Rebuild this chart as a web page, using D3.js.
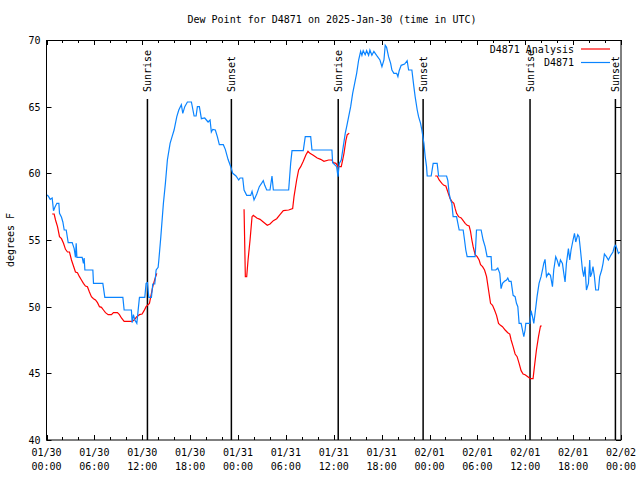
<!DOCTYPE html>
<html><head><meta charset="utf-8">
<script src="https://cdn.jsdelivr.net/npm/d3@7"></script>
<style>body{margin:0;background:#fff}svg text{font-family:"DejaVu Sans Mono",monospace;font-size:10px;fill:#000}</style>
</head><body><svg id="c" width="640" height="480"></svg>
<script>
const title = "Dew Point for D4871 on 2025-Jan-30 (time in UTC)";
const yLabel = "degrees F";
const xTickHours = [0,6,12,18,24,30,36,42,48,54,60,66,72];
const xTickDates = ["01/30","01/30","01/30","01/30","01/31","01/31","01/31","01/31","02/01","02/01","02/01","02/01","02/02"];
const xTickTimes = ["00:00","06:00","12:00","18:00","00:00","06:00","12:00","18:00","00:00","06:00","12:00","18:00","00:00"];
const yTicks = [40,45,50,55,60,65,70];
const sunHours = [12.65,23.17,36.56,47.2,60.6,71.3];
const sunLabels = ["Sunrise","Sunset","Sunrise","Sunset","Sunrise","Sunset"];
const seriesNames = ["D4871 Analysis","D4871"];

// observed (hours since 01/30 00:00 UTC, deg F)
const obsHours = [0,0.21,0.46,0.71,0.88,1.05,1.3,1.55,1.63,1.88,2.05,2.22,2.47,2.72,3.22,3.47,3.63,3.72,3.81,4.47,4.63,4.72,4.81,5.81,5.89,7.06,7.31,9.57,9.73,10.64,10.73,10.89,11.07,11.32,11.48,11.65,12.32,12.48,12.65,12.82,13.15,13.32,13.57,13.74,13.99,14.08,14.33,14.65,14.9,15.15,15.49,15.74,15.99,16.33,16.58,16.9,17.08,17.33,17.66,18.16,18.5,18.75,18.91,19.16,19.41,19.83,20.25,20.5,20.66,20.84,21.16,21.41,21.66,22.16,22.41,22.75,23.09,23.34,23.75,24.09,24.26,24.59,24.76,25.09,25.59,25.76,26.01,26.35,26.67,27.01,27.17,27.35,27.6,28.01,28.26,28.43,30.35,30.6,30.77,32.18,32.43,33.11,33.27,35.77,35.86,36.36,36.53,36.69,36.94,37.19,37.44,37.62,37.87,38.12,38.37,38.62,38.87,39.12,39.37,39.53,39.69,39.94,40.12,40.37,40.53,40.78,41.03,41.37,41.79,42.04,42.29,42.45,42.62,42.87,43.13,43.29,43.54,43.88,44.04,44.2,44.45,44.88,45.2,45.38,45.79,46.04,46.2,46.46,46.63,46.88,47.04,47.3,47.46,47.63,47.71,48.21,48.46,48.96,49.14,50.14,50.3,50.46,50.64,50.8,50.96,51.39,51.72,52.22,52.39,52.55,52.72,53.72,53.89,54.47,54.72,54.97,55.22,55.72,55.81,56.31,56.56,56.81,56.97,57.15,57.4,57.65,57.81,57.98,58.23,58.48,58.73,58.9,59.07,59.23,59.48,59.65,59.82,59.98,60.07,60.57,60.73,60.91,61.07,61.23,61.48,61.73,61.98,62.16,62.32,62.48,62.66,62.91,63.16,63.41,63.57,63.82,63.99,64.24,64.41,64.66,64.83,64.99,65.16,65.41,65.58,65.74,65.99,66.17,66.33,66.58,66.74,66.92,67.17,67.33,67.49,67.67,67.92,68.08,68.17,68.33,68.49,68.67,68.83,69.17,69.33,69.58,69.75,69.92,70.17,70.42,70.67,70.99,71.17,71.33,71.49,71.67,71.84];
const obsValues = [58.4,58.3,58.05,58.15,57.2,57.45,57.75,57.75,57.0,56.7,56.35,55.75,55.75,54.8,54.8,54.35,53.7,54.75,53.7,53.7,53.25,53.65,52.75,52.75,51.75,51.75,50.7,50.7,49.75,49.75,48.8,49.4,49.0,48.75,49.7,50.7,50.7,51.75,51.8,50.7,50.7,51.7,51.7,52.75,52.95,53.5,55.25,57.75,59.25,61.0,62.25,62.75,63.25,64.25,64.75,65.15,64.5,65.0,65.35,65.35,64.3,64.3,65.0,65.0,64.1,64.15,63.85,64.0,63.1,63.3,63.25,62.75,62.15,62.15,61.8,61.05,60.5,60.0,59.8,59.5,59.65,59.65,58.75,58.35,58.35,58.65,58.0,58.45,59.0,59.3,59.45,59.1,58.75,58.75,59.8,58.75,58.75,60.75,61.7,61.7,62.75,62.75,61.75,61.75,60.8,60.5,59.75,60.75,61.0,62.0,63.0,63.5,64.25,65.0,66.0,66.75,67.5,68.5,69.15,68.85,69.2,68.9,69.2,68.85,69.25,68.85,69.15,68.85,68.5,68.0,68.5,69.6,69.45,68.75,68.25,67.75,67.5,67.5,67.25,67.7,68.1,68.2,68.45,67.75,67.75,66.5,65.75,64.75,64.25,63.75,63.25,62.25,61.25,60.5,59.8,59.8,60.75,60.75,59.8,59.8,59.45,58.5,58.0,57.75,56.75,56.75,55.75,55.75,55.0,54.25,53.75,53.75,55.75,55.75,55.0,54.5,53.75,53.75,52.75,52.75,52.9,52.5,51.35,51.75,51.9,52.0,52.15,51.9,51.9,50.85,50.75,50.25,50.0,48.75,48.75,48.25,47.75,48.25,48.75,48.75,49.7,49.25,48.75,49.5,50.75,51.75,52.25,52.75,53.25,53.55,52.25,52.5,52.35,51.5,52.75,53.75,53.5,53.0,53.5,53.25,52.5,51.85,53.25,54.35,53.5,54.25,55.0,55.5,54.85,55.4,55.25,54.25,52.75,52.25,53.0,51.25,51.75,53.5,52.25,52.5,53.0,52.25,51.25,51.25,52.25,52.75,53.25,53.95,53.75,53.5,53.8,54.1,54.5,54.6,54.35,54.0,54.1];

// analysis (null = no data)
const anaHours = [0.71,0.96,1.13,1.38,1.63,1.88,2.13,2.38,2.63,2.88,3.13,3.38,3.63,3.88,4.13,4.38,4.63,4.88,5.13,5.38,5.63,5.89,6.14,6.39,6.64,6.89,7.14,7.39,7.73,8.14,8.39,8.89,9.14,9.39,9.73,10.73,10.98,11.32,11.65,11.98,12.23,12.48,12.65,12.9,13.15,13.32,13.57,13.82,
 19,
 24.76,24.84,24.92,25.09,25.26,25.51,25.76,25.92,26.35,26.76,27.17,27.67,28.01,28.43,28.85,29.26,29.68,30.35,30.85,31.02,31.35,31.6,31.86,32.18,32.52,32.77,33.02,33.43,33.93,34.36,34.77,35.36,35.77,35.94,36.28,36.53,36.94,37.12,37.28,37.53,37.69,37.94,
 43,
 48.71,48.96,49.21,49.55,49.8,50.05,50.3,50.55,50.8,51.05,51.22,51.39,51.64,51.97,52.22,52.47,52.72,52.97,53.14,53.31,53.47,53.72,53.97,54.22,54.4,54.65,54.9,55.15,55.4,55.65,55.9,56.15,56.4,56.65,56.9,57.15,57.48,57.81,58.06,58.23,58.48,58.73,58.98,59.23,59.48,59.73,59.98,60.32,60.65,60.98,61.15,61.4,61.66,61.91,62.07];
const anaValues = [56.95,56.95,56.5,56.0,55.25,55.1,54.75,54.3,54.1,54.1,53.5,53.05,52.6,52.55,52.25,52.0,51.75,51.55,51.5,51.1,50.75,50.6,50.5,50.3,50.0,49.95,49.75,49.55,49.4,49.4,49.55,49.55,49.4,49.15,48.9,48.9,49.0,49.25,49.4,49.45,49.7,50.0,50.1,50.25,51.0,51.5,52.05,52.5,
 null,
 57.3,54.75,52.25,52.25,53.5,55.0,56.75,56.85,56.65,56.55,56.35,56.1,56.2,56.45,56.6,56.9,57.2,57.25,57.35,58.25,59.5,60.25,60.5,60.9,61.4,61.65,61.5,61.35,61.15,61.05,60.9,61.0,61.0,60.8,60.75,60.5,60.5,61.0,61.5,62.5,62.9,63.0,
 null,
 59.8,59.8,59.5,59.25,59.1,59.05,58.6,58.15,57.9,57.75,57.35,57.0,56.75,56.65,56.45,56.25,56.1,56.05,55.65,55.0,54.5,53.9,53.75,53.5,53.15,53.0,52.75,52.25,51.25,50.25,50.1,49.75,49.35,48.75,48.6,48.5,48.25,48.05,47.95,47.5,47.0,46.45,46.25,45.75,45.2,44.95,44.9,44.75,44.6,44.6,45.5,46.75,47.75,48.55,48.55];

const colors = ["#ff0000","#0a84ff"];

const svg = d3.select("#c");
const L=46.5, R=621, T=40, B=440;
const x = d3.scaleLinear().domain([0,72]).range([L,R]);
const y = d3.scaleLinear().domain([40,70]).range([B,T]);

// ticks
const minor = d3.range(0,73,2);
const g = svg.append("g").attr("stroke","#000").attr("stroke-width",1);
minor.forEach(h=>{
  const len = h%6===0?5:3;
  const xx = Math.round(x(h))+0.5;
  g.append("line").attr("x1",xx).attr("x2",xx).attr("y1",B).attr("y2",B-len);
  g.append("line").attr("x1",xx).attr("x2",xx).attr("y1",T).attr("y2",T+len);
});
yTicks.forEach(v=>{
  const yy = Math.round(y(v))+0.5;
  g.append("line").attr("x1",L).attr("x2",L+5).attr("y1",yy).attr("y2",yy);
  g.append("line").attr("x1",R).attr("x2",R-5).attr("y1",yy).attr("y2",yy);
});

// tick labels
yTicks.forEach(v=>{
  svg.append("text").attr("x",L-6).attr("y",y(v)+4).attr("text-anchor","end").text(v);
});
xTickHours.forEach((h,i)=>{
  svg.append("text").attr("x",x(h)).attr("y",456).attr("text-anchor","middle").text(xTickDates[i]);
  svg.append("text").attr("x",x(h)).attr("y",470).attr("text-anchor","middle").text(xTickTimes[i]);
});

// sunrise / sunset lines
sunHours.forEach((h,i)=>{
  const xx = x(h);
  svg.append("line").attr("x1",xx).attr("x2",xx).attr("y1",B).attr("y2",99).attr("stroke","#000").attr("stroke-width",1.5);
  svg.append("text").attr("transform",`translate(${xx+4},92) rotate(-90)`).attr("text-anchor","start").text(sunLabels[i]);
});

// series
const line = d3.line().defined(d=>d[1]!==null).x(d=>x(d[0])).y(d=>y(d[1]));
const anaData = anaHours.map((h,i)=>[h,anaValues[i]]);
const obsData = obsHours.map((h,i)=>[h,obsValues[i]]);
svg.append("path").datum(anaData).attr("d",line).attr("fill","none").attr("stroke",colors[0]).attr("stroke-width",1.2);
svg.append("path").datum(obsData).attr("d",line).attr("fill","none").attr("stroke",colors[1]).attr("stroke-width",1.2);

// border
svg.append("rect").attr("x",L).attr("y",T+0.5).attr("width",R-L).attr("height",B-T-0.5).attr("fill","none").attr("stroke","#000").attr("stroke-width",1);

// legend
seriesNames.forEach((n,i)=>{
  const yy = 49 + i*13.5;
  svg.append("text").attr("x",574).attr("y",yy+3.5).attr("text-anchor","end").text(n);
  svg.append("line").attr("x1",581).attr("x2",610).attr("y1",yy).attr("y2",yy).attr("stroke",colors[i]).attr("stroke-width",1.2);
});

// title and y label
svg.append("text").attr("x",332).attr("y",23).attr("text-anchor","middle").text(title);
svg.append("text").attr("transform","translate(14,240) rotate(-90)").attr("text-anchor","middle").text(yLabel);
</script></body></html>
